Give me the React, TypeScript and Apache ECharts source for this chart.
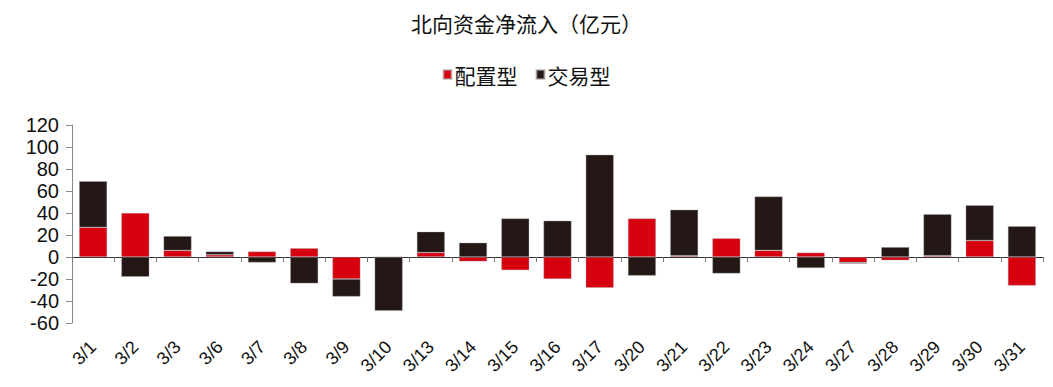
import React, { useEffect, useRef } from "react";
import * as echarts from "echarts";

const categories = ["3/1","3/2","3/3","3/6","3/7","3/8","3/9","3/10","3/13","3/14","3/15","3/16","3/17","3/20","3/21","3/22","3/23","3/24","3/27","3/28","3/29","3/30","3/31"];
const peizhi = [27, 40, 6, 2, 5, 8, -20, 0, 4, -4, -12, -20, -28, 35, 1, 17, 6, 4, -5, -3, 1, 15, -26];
const jiaoyi = [42, -18, 13, 3, -5, -24, -16, -49, 19, 13, 35, 33, 93, -17, 42, -15, 49, -10, -1, 9, 38, 32, 28];
const yTicks = { min: -60, max: 120, interval: 20 };

const RED = "#D7000F";
const BLACK = "#231815";

export default function App() {
  const ref = useRef<HTMLDivElement>(null);
  useEffect(() => {
    if (!ref.current) return;
    const chart = echarts.init(ref.current, undefined, { renderer: "svg" });
    const cjk = "'Noto Sans CJK SC', sans-serif";
    const num = "'Liberation Sans', Arial, sans-serif";
    chart.setOption({
      animation: false,
      backgroundColor: "#fff",
      title: {
        text: "北向资金净流入（亿元）",
        left: "center",
        top: 7,
        textStyle: { fontFamily: cjk, fontSize: 21, fontWeight: "normal", color: "#111" },
      },
      legend: {
        top: 59,
        left: "center",
        icon: "rect",
        itemWidth: 8,
        itemHeight: 9,
        itemGap: 18,
        textStyle: { fontFamily: cjk, fontSize: 21, color: "#111", padding: [0, 0, 0, -2] },
        data: ["配置型", "交易型"],
      },
      grid: { left: 72, right: 10, top: 125, bottom: 64, containLabel: false },
      xAxis: [
        {
          type: "category",
          data: categories,
          position: "bottom",
          axisLine: { show: false, onZero: false },
          axisTick: { show: false },
          axisLabel: {
            rotate: 45,
            margin: 21,
            interval: 0,
            fontFamily: num,
            fontSize: 18,
            color: "#111",
          },
        },
        {
          type: "category",
          data: categories,
          position: "bottom",
          axisLine: { show: true, onZero: true, lineStyle: { color: "#333", width: 1 } },
          axisTick: { show: true, length: 5, lineStyle: { color: "#777" } },
          axisLabel: { show: false },
        },
      ],
      yAxis: {
        type: "value",
        min: yTicks.min,
        max: yTicks.max,
        interval: yTicks.interval,
        splitLine: { show: false },
        axisLine: { show: true, lineStyle: { color: "#888" } },
        axisTick: { show: true, length: 6, lineStyle: { color: "#888" } },
        axisLabel: { fontFamily: num, fontSize: 20, color: "#111", margin: 13 },
      },
      series: [
        {
          name: "配置型",
          type: "bar",
          stack: "total",
          barWidth: 28,
          data: peizhi,
          itemStyle: { color: RED, borderColor: "rgba(170,170,170,0.6)", borderWidth: 0.6 },
        },
        {
          name: "交易型",
          type: "bar",
          stack: "total",
          barWidth: 28,
          data: jiaoyi,
          itemStyle: { color: BLACK, borderColor: "rgba(170,170,170,0.6)", borderWidth: 0.6 },
        },
      ],
    });
    return () => chart.dispose();
  }, []);
  return (
    <div
      ref={ref}
      style={{ position: "fixed", left: 0, top: 0, width: 1053, height: 387 }}
    />
  );
}
